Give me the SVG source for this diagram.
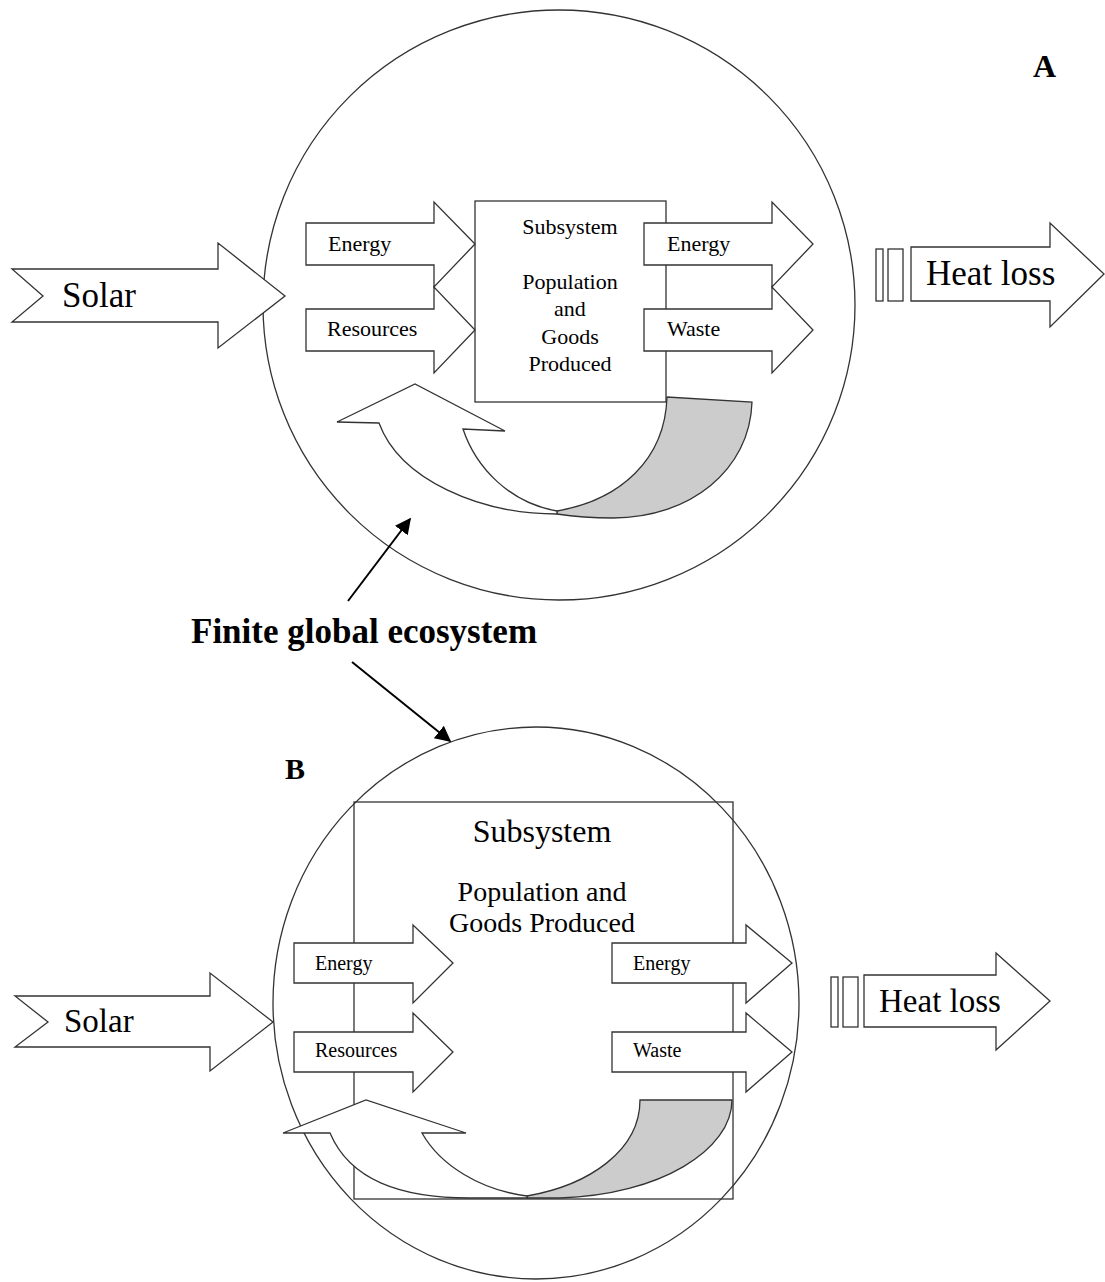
<svg xmlns="http://www.w3.org/2000/svg" width="1105" height="1282" viewBox="0 0 1105 1282">
<style>
.ln{fill:none;stroke:#333;stroke-width:1.3}
.sh{fill:#fff;stroke:#333;stroke-width:1.3;stroke-linejoin:miter}
.gr{fill:#cccccc;stroke:#333;stroke-width:1.3}
.big{font-family:"Liberation Serif","Times New Roman",serif;fill:#000}
.sm{font-family:"Liberation Serif","Times New Roman",serif;fill:#000;font-size:22px}
.smb{font-family:"Liberation Serif","Times New Roman",serif;fill:#000;font-size:20px}
.bold{font-family:"Liberation Serif","Times New Roman",serif;font-weight:bold;fill:#000}
.ptr{stroke:#000;stroke-width:2;fill:none}
</style>
<defs>
<marker id="ah" viewBox="0 0 10 10" refX="9" refY="5" markerWidth="8" markerHeight="8" orient="auto" markerUnits="strokeWidth">
<path d="M0,0 L10,5 L0,10 Z" fill="#000"/>
</marker>
</defs>

<!-- Diagram A -->
<g id="A-ecosystem"><ellipse class="ln" cx="559" cy="305" rx="296" ry="295"/></g>
<g id="A-label"><text class="bold" x="1033" y="77" font-size="32">A</text></g>

<g id="A-solar">
<path class="sh" d="M12,269 L218,269 L218,243 L285,296 L218,348 L218,322 L12,322 L43,296 Z"/>
<text class="big" x="62" y="307" font-size="35">Solar</text>
</g>

<g id="A-subsystem">
<rect class="sh" x="475" y="201" width="191" height="201"/>
<text class="sm" x="570" y="234" text-anchor="middle">Subsystem</text>
<text class="sm" x="570" y="289" text-anchor="middle">Population</text>
<text class="sm" x="570" y="316" text-anchor="middle">and</text>
<text class="sm" x="570" y="344" text-anchor="middle">Goods</text>
<text class="sm" x="570" y="371" text-anchor="middle">Produced</text>
</g>

<g id="A-energy-in">
<path class="sh" d="M306,223 L434,223 L434,202 L475,244 L434,287 L434,265 L306,265 Z"/>
<text class="sm" x="328" y="251">Energy</text>
</g>
<g id="A-resources-in">
<path class="sh" d="M306,309 L434,309 L434,287 L475,330 L434,373 L434,351 L306,351 Z"/>
<text class="sm" x="327" y="336">Resources</text>
</g>
<g id="A-energy-out">
<path class="sh" d="M644,223 L772,223 L772,202 L813,244 L772,287 L772,265 L644,265 Z"/>
<text class="sm" x="667" y="251">Energy</text>
</g>
<g id="A-waste-out">
<path class="sh" d="M644,309 L772,309 L772,287 L813,330 L772,373 L772,351 L644,351 Z"/>
<text class="sm" x="667" y="336">Waste</text>
</g>

<g id="A-recycle">
<path class="gr" d="M557,511 C620,500 665,460 667,397 L752,402 C750,470 690,518 613,518 C590,518 570,516 557,514 Z"/>
<path class="sh" d="M379,423 L337,422 L415,384 L505,431 L463,429 C476,468 510,503 557,511 L557,514 C480,514 400,480 379,423 Z"/>
</g>

<g id="A-heatloss">
<rect class="sh" x="876" y="249" width="7" height="52"/>
<rect class="sh" x="888" y="249" width="15" height="52"/>
<path class="sh" d="M911,247 L1050,247 L1050,223 L1104,274 L1050,327 L1050,301 L911,301 Z"/>
<text class="big" x="926" y="285" font-size="35">Heat loss</text>
</g>

<!-- Label -->
<g id="finite-label"><text class="bold" x="191" y="643" font-size="35">Finite global ecosystem</text></g>

<!-- Diagram B -->
<g id="B-ecosystem"><ellipse class="ln" cx="536" cy="1003" rx="263" ry="276"/></g>
<g id="B-label"><text class="bold" x="285" y="779" font-size="30">B</text></g>

<g id="B-subsystem">
<rect class="ln" x="354" y="802" width="379" height="397"/>
<text class="big" x="542" y="842" font-size="32" text-anchor="middle">Subsystem</text>
<text class="big" x="542" y="901" font-size="28" text-anchor="middle">Population and</text>
<text class="big" x="542" y="932" font-size="28" text-anchor="middle">Goods Produced</text>
</g>

<g id="B-solar">
<path class="sh" d="M15,996 L210,996 L210,973 L273,1022 L210,1071 L210,1047 L15,1047 L48,1022 Z"/>
<text class="big" x="64" y="1032" font-size="33">Solar</text>
</g>

<g id="B-energy-in">
<path class="sh" d="M294,943 L413,943 L413,925 L453,963 L413,1003 L413,983 L294,983 Z"/>
<text class="smb" x="315" y="970">Energy</text>
</g>
<g id="B-resources-in">
<path class="sh" d="M294,1032 L413,1032 L413,1013 L453,1052 L413,1092 L413,1072 L294,1072 Z"/>
<text class="smb" x="315" y="1057">Resources</text>
</g>
<g id="B-energy-out">
<path class="sh" d="M612,943 L746,943 L746,925 L792,963 L746,1003 L746,983 L612,983 Z"/>
<text class="smb" x="633" y="970">Energy</text>
</g>
<g id="B-waste-out">
<path class="sh" d="M612,1032 L746,1032 L746,1013 L792,1052 L746,1092 L746,1072 L612,1072 Z"/>
<text class="smb" x="633" y="1057">Waste</text>
</g>

<g id="B-recycle">
<path class="gr" d="M527,1196 C590,1185 640,1150 640,1100 L732,1100 C732,1150 660,1195 560,1198 L527,1198 Z"/>
<path class="sh" d="M330,1133 L283,1133 L366,1100 L466,1133 L422,1133 C440,1165 480,1190 527,1196 L527,1198 L470,1198 C400,1198 350,1180 330,1133 Z"/>
</g>

<g id="B-heatloss">
<rect class="sh" x="831" y="977" width="7" height="50"/>
<rect class="sh" x="843" y="977" width="15" height="50"/>
<path class="sh" d="M864,975 L996,975 L996,953 L1050,1001 L996,1050 L996,1027 L864,1027 Z"/>
<text class="big" x="879" y="1012" font-size="33">Heat loss</text>
</g>

<!-- Connectors -->
<g id="connectors">
<line class="ptr" x1="348" y1="601" x2="410" y2="519" marker-end="url(#ah)"/>
<line class="ptr" x1="352" y1="662" x2="450" y2="741" marker-end="url(#ah)"/>
</g>
</svg>
